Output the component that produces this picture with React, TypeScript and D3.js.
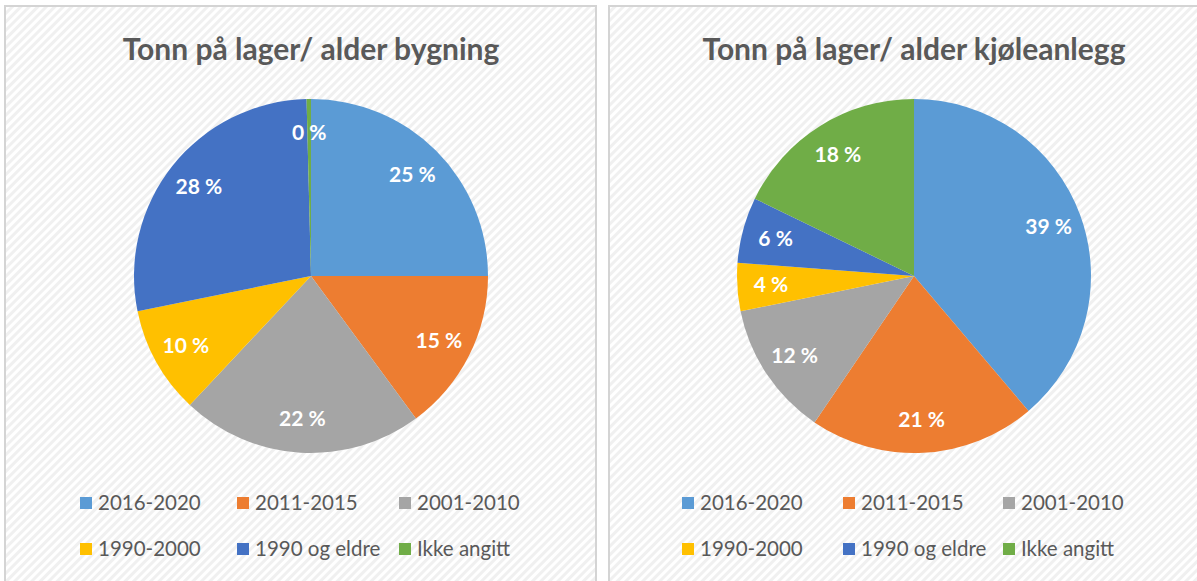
import React from 'react';
import * as d3 from 'd3';

const categories = ['2016-2020', '2011-2015', '2001-2010', '1990-2000', '1990 og eldre', 'Ikke angitt'];
const colors = ['#5b9bd5', '#ed7d31', '#a5a5a5', '#ffc000', '#4472c4', '#70ad47'];

const byggValues = [25.0, 14.9, 22.1, 9.8, 27.8, 0.4];
const kjoleValues = [38.8, 20.7, 12.3, 4.4, 6.0, 17.8];

const titles = ['Tonn på lager/ alder bygning', 'Tonn på lager/ alder kjøleanlegg'];

const W = 1197;
const H = 581;
const FONT = 'Lato, "Open Sans", sans-serif';

interface PanelProps {
  x: number;
  w: number;
  cx: number;
  title: string;
  values: number[];
  legendX: number[];
}

const Panel: React.FC<PanelProps> = ({ x, w, cx, title, values, legendX }) => {
  const cy = 276;
  const r = 177;

  const pie = d3.pie<number>().sort(null).value(d => d)(values);
  const arc = d3.arc<d3.PieArcDatum<number>>().innerRadius(0).outerRadius(r);
  const labelArc = d3.arc<d3.PieArcDatum<number>>().innerRadius(r * 0.81).outerRadius(r * 0.81);

  return (
    <g>
      <rect x={x} y={6} width={w} height={H} fill="url(#hatch)" stroke="#d4d4d4" strokeWidth={2} />
      <text x={cx} y={60} textAnchor="middle" fontFamily={FONT} fontWeight={700} fontSize={30} fill="#595959">
        {title}
      </text>
      <g transform={`translate(${cx},${cy})`}>
        {pie.map((p, i) => (
          <path key={i} d={arc(p) || ''} fill={colors[i]} />
        ))}
        {pie.map((p, i) => {
          const [lx, ly] = labelArc.centroid(p);
          return (
            <text key={'l' + i} x={lx} y={ly} dy="0.35em" textAnchor="middle" fontFamily={FONT}
              fontWeight={700} fontSize={21} fill="#ffffff">
              {`${d3.format('.0f')(p.data)} %`}
            </text>
          );
        })}
      </g>
      {categories.map((c, i) => {
        const col = i % 3;
        const row = Math.floor(i / 3);
        const ly = 503 + row * 46;
        const lx = legendX[col];
        return (
          <g key={'lg' + i}>
            <rect x={lx} y={ly - 6} width={12} height={12} fill={colors[i]} />
            <text x={lx + 18} y={ly} dy="0.35em" fontFamily={FONT} fontSize={20.5} fill="#595959">
              {c}
            </text>
          </g>
        );
      })}
    </g>
  );
};

export default function App() {
  return (
    <svg width={W} height={H} style={{ position: 'absolute', left: 0, top: 0, background: '#ffffff' }}>
      <defs>
        <pattern id="hatch" width={6} height={6} patternUnits="userSpaceOnUse" patternTransform="rotate(45)">
          <rect width={6} height={6} fill="#ffffff" />
          <rect width={3} height={6} fill="#f0f0f0" />
        </pattern>
      </defs>
      <Panel x={5} w={591} cx={311} title={titles[0]} values={byggValues} legendX={[80, 237, 399]} />
      <Panel x={609} w={600} cx={914} title={titles[1]} values={kjoleValues} legendX={[682, 843, 1003]} />
    </svg>
  );
}
